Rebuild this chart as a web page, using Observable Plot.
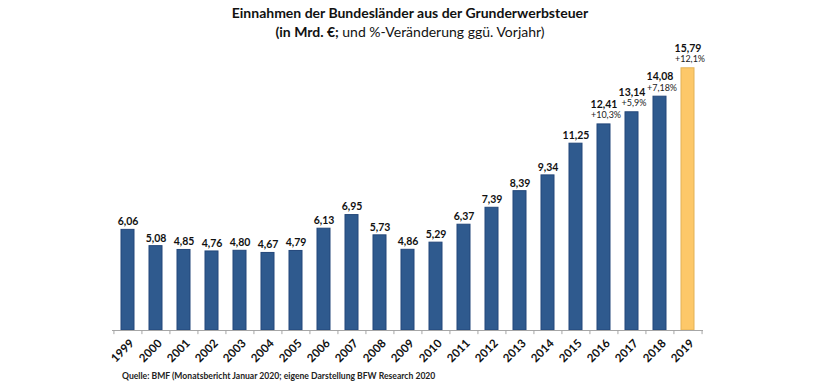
<!DOCTYPE html>
<html>
<head>
<meta charset="utf-8">
<script src="https://cdn.jsdelivr.net/npm/d3@7"></script>
<script src="https://cdn.jsdelivr.net/npm/@observablehq/plot@0.6"></script>
<style>
  html, body { margin: 0; padding: 0; background: #fff; }
  #wrap { position: relative; width: 820px; height: 390px; overflow: hidden; font-family: Lato, "Open Sans", sans-serif; }
  #title { position: absolute; left: 0; top: 3px; width: 820px; text-align: center; color: #111; font-size: 14px; line-height: 19px; font-weight: bold; }
  #title .reg { font-weight: normal; }
  #chart { position: absolute; left: 0; top: 42px; }
  #caption { position: absolute; left: 122px; top: 371px; font-size: 8.6px; font-weight: bold; color: #222; }
</style>
</head>
<body>
<div id="wrap">
  <div id="title">Einnahmen der Bundesländer aus der Grunderwerbsteuer<br>(in Mrd. €; <span class="reg">und %-Veränderung ggü. Vorjahr)</span></div>
  <div id="chart"></div>
  <div id="caption">Quelle: BMF (Monatsbericht Januar 2020; eigene Darstellung BFW Research 2020</div>
</div>
<script>
const years = ["1999","2000","2001","2002","2003","2004","2005","2006","2007","2008","2009","2010","2011","2012","2013","2014","2015","2016","2017","2018","2019"];
const values = [6.06,5.08,4.85,4.76,4.80,4.67,4.79,6.13,6.95,5.73,4.86,5.29,6.37,7.39,8.39,9.34,11.25,12.41,13.14,14.08,15.79];
const changeYears = ["2016","2017","2018","2019"];
const changeLabels = ["+10,3%","+5,9%","+7,18%","+12,1%"];
const highlightYear = "2019";

const fmt = v => v.toFixed(2).replace(".", ",");
const data = years.map((y, i) => ({year: y, value: values[i], change: changeLabels[changeYears.indexOf(y)] ?? null}));
const withChange = data.filter(d => d.change);
const noChange = data.filter(d => !d.change);

const W = 820, H = 330;
const mL = 112, mR = 117;
const step = (W - mL - mR) / years.length;

const plot = Plot.plot({
  width: W,
  height: H,
  marginLeft: mL,
  marginRight: mR,
  marginTop: 14,
  marginBottom: 42,
  style: {fontFamily: "Lato, 'Open Sans', sans-serif", background: "transparent"},
  x: {domain: years, paddingInner: 0.54, paddingOuter: 0.27, axis: null},
  y: {domain: [0, 16.5], axis: null},
  marks: [
    Plot.barY(data, {
      x: "year", y: "value",
      fill: d => d.year === highlightYear ? "#fdc869" : "#2f5a8e",
      stroke: d => d.year === highlightYear ? "#e3b257" : "#23477a",
      strokeWidth: 1
    }),
    Plot.ruleY([0], {stroke: "#a6a6a6", strokeWidth: 1}),
    Plot.ruleX(years, {x: d => d, y1: 0, y2: -0.25, dx: -step / 2, stroke: "#a6a6a6"}),
    Plot.ruleX([years[years.length - 1]], {x: d => d, y1: 0, y2: -0.25, dx: step / 2, stroke: "#a6a6a6"}),
    Plot.text(noChange, {x: "year", y: "value", text: d => fmt(d.value), dy: -8, fontSize: 10.5, fontWeight: "bold", fill: "#111"}),
    Plot.text(withChange, {x: "year", y: "value", text: d => fmt(d.value), dy: -20, fontSize: 10.5, fontWeight: "bold", fill: "#111"}),
    Plot.text(withChange, {x: "year", y: "value", text: "change", dy: -9, dx: 2, fontSize: 9, fill: "#222"}),
    Plot.text(data, {x: "year", y: 0, text: "year", rotate: -45, textAnchor: "end", dy: 11, dx: 4, fontSize: 11.5, fontWeight: "bold", fill: "#111"})
  ]
});
document.getElementById("chart").appendChild(plot);
</script>
</body>
</html>
